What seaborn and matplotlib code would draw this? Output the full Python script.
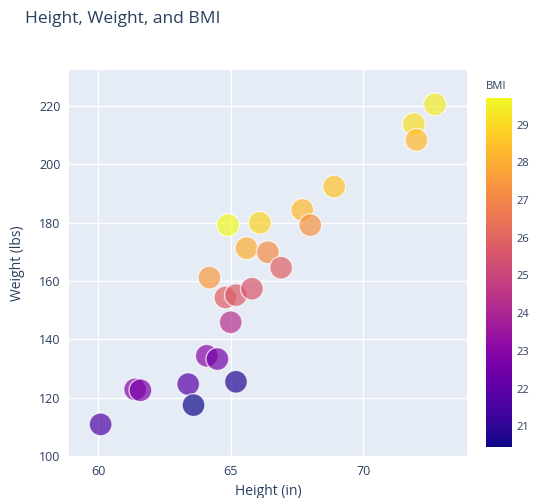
import matplotlib
matplotlib.use('Agg')
import matplotlib.pyplot as plt
import numpy as np
import pandas as pd
import seaborn as sns

# values
height_in = [60.1, 61.4, 61.6, 63.4, 63.6, 64.1, 64.5, 65.2, 65.0, 64.8, 65.2, 65.8,
             64.2, 65.6, 66.4, 66.9, 64.9, 66.1, 67.7, 68.0, 68.9, 71.9, 72.0, 72.7]
weight_lbs = [110.9, 122.9, 122.6, 124.7, 117.5, 134.4, 133.3, 125.5, 145.9, 154.4, 155.2, 157.4,
              161.2, 171.3, 169.9, 164.6, 179.2, 180.0, 184.4, 179.2, 192.4, 213.8, 208.4, 220.6]
bmi = [21.6, 22.9, 22.7, 21.8, 20.45, 23.0, 22.5, 20.8, 24.3, 25.9, 25.7, 25.6,
       27.5, 28.0, 27.1, 25.9, 29.7, 28.9, 28.3, 27.3, 28.5, 29.1, 28.3, 29.4]

BG = '#E5ECF6'
TXT = '#2a3f5f'
FONT = ['Open Sans', 'DejaVu Sans']


def main():
    sns.set_style('white')
    plt.rcParams['font.family'] = FONT

    df = pd.DataFrame({'Height (in)': height_in, 'Weight (lbs)': weight_lbs, 'BMI': bmi})
    vmin, vmax = df['BMI'].min(), df['BMI'].max()
    norm = plt.Normalize(vmin, vmax)

    fig = plt.figure(figsize=(5.33, 4.98), dpi=100)
    ax = fig.add_axes([0.129, 0.084, 0.747, 0.775])
    ax.set_facecolor(BG)

    sns.scatterplot(data=df, x='Height (in)', y='Weight (lbs)', hue='BMI', palette='plasma',
                    hue_norm=norm, s=270, alpha=0.7, edgecolor='white', linewidth=1.0,
                    legend=False, ax=ax, zorder=3)

    ax.set_xlim(58.9, 73.9)
    ax.set_ylim(100, 232.3)
    ax.set_xticks([60, 65, 70])
    ax.set_yticks([100, 120, 140, 160, 180, 200, 220])
    ax.grid(True, color='white', linewidth=1.0, zorder=0)
    ax.set_axisbelow(True)
    for sp in ax.spines.values():
        sp.set_visible(False)
    ax.tick_params(length=0, labelsize=9, labelcolor=TXT, pad=6)
    ax.set_xlabel('Height (in)', fontsize=10, color=TXT, labelpad=5)
    ax.set_ylabel('Weight (lbs)', fontsize=10, color=TXT, labelpad=10)

    cax = fig.add_axes([0.912, 0.102, 0.049, 0.701])
    sm = plt.cm.ScalarMappable(cmap='plasma', norm=norm)
    cb = fig.colorbar(sm, cax=cax)
    cb.outline.set_visible(False)
    cb.set_ticks(range(21, 30))
    cax.tick_params(length=0, labelsize=8, labelcolor=TXT, pad=3)
    fig.text(0.912, 0.815, 'BMI', fontsize=8, color=TXT, ha='left', va='bottom')

    fig.text(0.047, 0.962, 'Height, Weight, and BMI', fontsize=12.5, color=TXT, ha='left', va='center')

    fig.savefig('out.png', dpi=100)
    plt.close(fig)


if __name__ == '__main__':
    main()
